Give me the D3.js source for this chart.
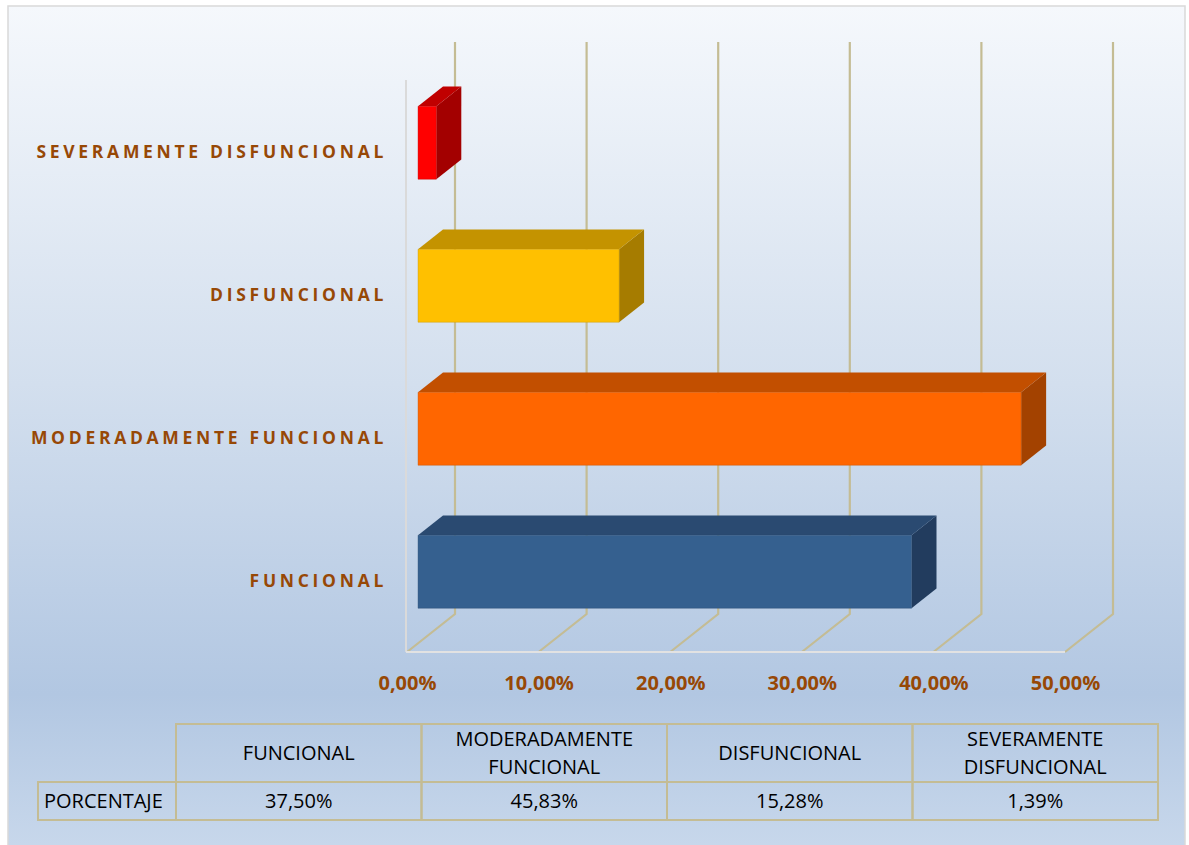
<!DOCTYPE html>
<html>
<head>
<meta charset="utf-8">
<script src="https://cdn.jsdelivr.net/npm/d3@7"></script>
<style>
  body { margin: 0; background: #ffffff; }
  svg { display: block; }
</style>
</head>
<body>
<div id="chart"></div>
<script>
// data
var categories = ["FUNCIONAL", "MODERADAMENTE FUNCIONAL", "DISFUNCIONAL", "SEVERAMENTE DISFUNCIONAL"];
var values = [0.375, 0.4583, 0.1528, 0.0139];
var tickValues = [0, 0.1, 0.2, 0.3, 0.4, 0.5];
var headerLines = [["FUNCIONAL"], ["MODERADAMENTE", "FUNCIONAL"], ["DISFUNCIONAL"], ["SEVERAMENTE", "DISFUNCIONAL"]];
var rowLabel = "PORCENTAJE";

// bar colours: front, top, side
var barColors = [
  {front: "#35608f", top: "#2a4a71", side: "#223c5e"},
  {front: "#ff6600", top: "#c24f00", side: "#a34200"},
  {front: "#ffc000", top: "#c49300", side: "#a67c00"},
  {front: "#ff0000", top: "#c00000", side: "#a30000"}
];

var W = 1189, H = 845;
var brown = "#974806", grid = "#c4bc94";

// spanish number format
var locale = d3.formatLocale({decimal: ",", thousands: ".", grouping: [3], currency: ["", " €"]});
var pct = locale.format(".2%");

var svg = d3.select("#chart").append("svg")
  .attr("width", W).attr("height", H);

// background gradient
var grad = svg.append("defs").append("linearGradient")
  .attr("id", "bg").attr("gradientUnits", "userSpaceOnUse")
  .attr("x1", 0).attr("y1", 6).attr("x2", 0).attr("y2", 845);
grad.append("stop").attr("offset", 0).attr("stop-color", "#f5f8fc");
grad.append("stop").attr("offset", 0.45).attr("stop-color", "#d3dfee");
grad.append("stop").attr("offset", 0.82).attr("stop-color", "#b2c7e2");
grad.append("stop").attr("offset", 1).attr("stop-color", "#c7d7eb");

svg.append("rect")
  .attr("x", 8).attr("y", 6).attr("width", 1177).attr("height", 850)
  .attr("fill", "url(#bg)").attr("stroke", "#d9d9d9").attr("stroke-width", 1.5);

// scales (front plane)
var x = d3.scaleLinear().domain([0, 0.5]).range([407, 1065]);
var y = d3.scaleBand().domain(categories).range([652, 80])
  .paddingInner(0.49).paddingOuter(0.245);

// depth of the 3d box
var DX = 48, DY = -38;
var dFront = 0.23, dBack = 0.75;
function proj(v, yy, d) { return [x(v) + d * DX, yy + d * DY]; }

var floorY = 652, topY = 80;

// back wall gridlines + floor diagonals
var gl = svg.append("g").attr("fill", "none").attr("stroke", grid).attr("stroke-width", 2.2);
gl.selectAll("path")
  .data(tickValues)
  .join("path")
    .attr("d", function(t) {
      var a = proj(t, topY, 1), b = proj(t, floorY, 1), c = proj(t, floorY, 0);
      return "M" + a + "L" + b + "L" + c;
    });

// left wall front edge and floor front edge
svg.append("line")
  .attr("x1", x(0) - 1).attr("x2", x(0) - 1).attr("y1", topY).attr("y2", floorY)
  .attr("stroke", "#dadada").attr("stroke-width", 2);
svg.append("line")
  .attr("x1", x(0) - 1).attr("x2", x(0.5)).attr("y1", floorY).attr("y2", floorY)
  .attr("stroke", "#e2e2e2").attr("stroke-width", 2);

// bars
var bars = svg.append("g").selectAll("g")
  .data(categories.map(function(c, i) { return {cat: c, value: values[i], col: barColors[i]}; }))
  .join("g");

function poly(pts) { return "M" + pts.join("L") + "Z"; }

bars.append("path")
  .attr("d", function(d) {
    var t = y(d.cat), b = t + y.bandwidth();
    return poly([proj(d.value, t, dFront), proj(d.value, t, dBack), proj(d.value, b, dBack), proj(d.value, b, dFront)]);
  })
  .attr("fill", function(d) { return d.col.side; });

bars.append("path")
  .attr("d", function(d) {
    var t = y(d.cat);
    return poly([proj(0, t, dFront), proj(d.value, t, dFront), proj(d.value, t, dBack), proj(0, t, dBack)]);
  })
  .attr("fill", function(d) { return d.col.top; });

bars.append("path")
  .attr("d", function(d) {
    var t = y(d.cat), b = t + y.bandwidth();
    return poly([proj(0, t, dFront), proj(d.value, t, dFront), proj(d.value, b, dFront), proj(0, b, dFront)]);
  })
  .attr("fill", function(d) { return d.col.front; })
  .attr("stroke", function(d) { return d.col.top; })
  .attr("stroke-opacity", 0.5)
  .attr("stroke-width", 0.8);

// x axis labels
var xAxis = svg.append("g")
  .attr("transform", "translate(0," + floorY + ")")
  .call(d3.axisBottom(x).tickValues(tickValues).tickFormat(pct).tickSize(0).tickPadding(24));
xAxis.select(".domain").remove();
xAxis.selectAll("text")
  .attr("fill", brown)
  .style("font-family", "'Open Sans', sans-serif")
  .style("font-size", "20px")
  .style("font-weight", "bold");

// category labels
var yAxis = svg.append("g")
  .attr("transform", "translate(387,1)")
  .call(d3.axisLeft(y).tickSize(0).tickPadding(0));
yAxis.select(".domain").remove();
yAxis.selectAll("text")
  .attr("fill", brown)
  .style("font-family", "'Open Sans', sans-serif")
  .style("font-size", "17.5px")
  .style("font-weight", "bold")
  .style("letter-spacing", "3.7px");

// data table
var tbl = svg.append("g")
  .style("font-family", "'Open Sans', sans-serif")
  .style("font-size", "20px")
  .attr("fill", "#000");

var colX = d3.scaleBand().domain(categories).range([176, 1158]);
var labelX0 = 38;
var hTop = 724, hBot = 782, rBot = 820;

tbl.selectAll("rect.head")
  .data(categories)
  .join("rect")
    .attr("class", "head")
    .attr("x", function(d) { return colX(d); }).attr("y", hTop)
    .attr("width", colX.bandwidth()).attr("height", hBot - hTop)
    .attr("fill", "none").attr("stroke", grid).attr("stroke-width", 2);

tbl.selectAll("rect.cell")
  .data(categories)
  .join("rect")
    .attr("class", "cell")
    .attr("x", function(d) { return colX(d); }).attr("y", hBot)
    .attr("width", colX.bandwidth()).attr("height", rBot - hBot)
    .attr("fill", "none").attr("stroke", grid).attr("stroke-width", 2);

tbl.append("rect")
  .attr("x", labelX0).attr("y", hBot)
  .attr("width", colX(categories[0]) - labelX0).attr("height", rBot - hBot)
  .attr("fill", "none").attr("stroke", grid).attr("stroke-width", 2);

tbl.selectAll("text.head")
  .data(categories)
  .join("text")
    .attr("class", "head")
    .attr("text-anchor", "middle")
    .attr("x", function(d) { return colX(d) + colX.bandwidth() / 2; })
    .attr("y", function(d, i) { return headerLines[i].length > 1 ? 746 : 760; })
    .each(function(d, i) {
      var t = d3.select(this);
      headerLines[i].forEach(function(line, k) {
        t.append("tspan")
          .attr("x", colX(d) + colX.bandwidth() / 2)
          .attr("dy", k === 0 ? 0 : 28)
          .text(line);
      });
    });

tbl.selectAll("text.val")
  .data(categories)
  .join("text")
    .attr("class", "val")
    .attr("text-anchor", "middle")
    .attr("x", function(d) { return colX(d) + colX.bandwidth() / 2; })
    .attr("y", 808)
    .text(function(d, i) { return pct(values[i]); });

tbl.append("text")
  .attr("x", 44).attr("y", 808)
  .text(rowLabel);
</script>
</body>
</html>
